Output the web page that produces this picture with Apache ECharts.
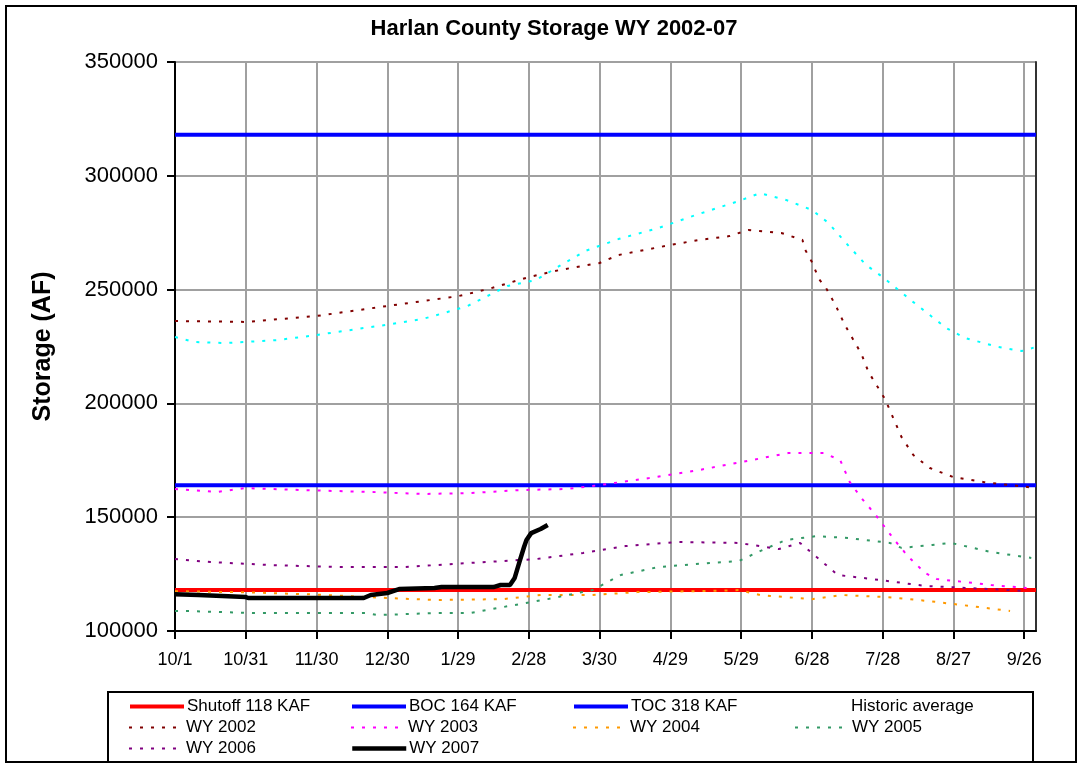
<!DOCTYPE html>
<html>
<head>
<meta charset="utf-8">
<title>Harlan County Storage WY 2002-07</title>
<script src="https://cdn.jsdelivr.net/npm/echarts@6/dist/echarts.min.js"></script>
<style>
  html, body { margin: 0; padding: 0; background: #fff; }
  #chart { width: 1081px; height: 766px; }
</style>
</head>
<body>
<div id="chart"></div>
<script>
  // x = days since 10/1 (water year), y = storage in AF
  const tickLabels = ['10/1', '10/31', '11/30', '12/30', '1/29', '2/28', '3/30', '4/29', '5/29', '6/28', '7/28', '8/27', '9/26']

  const shutoff = 118000
  const boc = 164000
  const toc = 318000

  const historicAvg = [[0, 229200], [8, 227000], [21, 226500], [30, 227000], [43, 227800], [57, 229600], [80, 233100], [92, 234900], [105, 237100], [114, 239700], [124, 242800], [130, 245900], [141, 251600], [153, 254200], [163, 260400], [174, 267000], [188, 272200], [205, 277100], [222, 283200], [239, 288900], [248, 292400], [259, 289400], [270, 285000], [277, 279300], [286, 268700], [293, 260800], [300, 255500], [313, 244500], [327, 233100], [335, 228700], [349, 224800], [359, 223000], [364, 224500]]

  const wy2002 = [[0, 236200], [30, 235800], [60, 238400], [90, 242800], [120, 247100], [133, 250300], [150, 255500], [163, 258600], [180, 261700], [188, 265200], [210, 269600], [222, 271800], [235, 273500], [243, 276200], [257, 274900], [266, 271800], [267, 267800], [270, 262100], [273, 254600], [276, 250700], [280, 243200], [284, 234400], [291, 221700], [294, 213800], [301, 201900], [308, 185200], [313, 177300], [320, 171600], [330, 167600], [343, 165400], [362, 163200]]

  const wy2003 = [[0, 162400], [18, 161100], [30, 162800], [54, 161900], [83, 161100], [105, 160200], [125, 160600], [146, 161900], [166, 162400], [180, 164100], [201, 167200], [222, 170700], [240, 174200], [260, 178200], [275, 178200], [282, 175100], [286, 165500], [291, 158400], [297, 151000], [305, 140000], [311, 132500], [318, 125500], [323, 122800], [335, 121500], [346, 120200], [361, 118900]]

  const wy2004 = [[0, 117500], [30, 117000], [60, 116000], [90, 114500], [111, 113600], [139, 114000], [155, 115800], [177, 115800], [196, 117100], [227, 117600], [239, 118000], [248, 115800], [270, 114000], [283, 115800], [302, 114900], [319, 113200], [337, 111000], [354, 108800]]

  const wy2005 = [[0, 108800], [5, 108800], [33, 107900], [81, 107900], [86, 107000], [111, 107900], [125, 107900], [139, 110500], [158, 114000], [177, 118000], [189, 124600], [205, 128100], [227, 129900], [239, 130700], [248, 135100], [259, 140000], [272, 141700], [286, 140800], [303, 138700], [308, 136500], [321, 137800], [329, 138700], [346, 134700], [363, 132100]]

  const wy2006 = [[0, 131600], [15, 130300], [40, 129000], [69, 128100], [97, 128100], [125, 129900], [153, 131600], [173, 134300], [191, 137300], [213, 139100], [239, 138700], [256, 136000], [265, 138700], [272, 132500], [281, 124600], [299, 122400], [318, 119800], [346, 118400], [361, 117600]]

  const wy2007 = [[0, 116200], [10, 115800], [20, 115400], [30, 114900], [31, 114500], [60, 114500], [80, 114500], [83, 115800], [90, 116700], [95, 118400], [110, 118900], [113, 119300], [135, 119300], [138, 120200], [142, 120200], [144, 123300], [146, 130300], [148, 137000], [149, 140000], [151, 143000], [155, 144800], [158, 146600]]

  // legend layout: rows of names (4 columns)
  const legendRows = [
    ['Shutoff 118 KAF', 'BOC 164 KAF', 'TOC 318 KAF', 'Historic average'],
    ['WY 2002', 'WY 2003', 'WY 2004', 'WY 2005'],
    ['WY 2006', 'WY 2007']
  ]

  const font = "'Liberation Sans', Arial, sans-serif"
  const dots = [3, 8]

  function flat(v) {
    return [[0, v], [365, v]]
  }

  function solid(name, color, data, w) {
    return {
      name: name,
      type: 'line',
      data: data,
      symbol: 'none',
      silent: true,
      lineStyle: { color: color, width: w || 4, type: 'solid' },
      itemStyle: { color: color }
    }
  }

  function dotted(name, color, data) {
    return {
      name: name,
      type: 'line',
      data: data,
      symbol: 'none',
      silent: true,
      lineStyle: { color: color, width: 2, type: dots },
      itemStyle: { color: color }
    }
  }

  // one legend component per item so the columns line up like the original
  let legends = []
  legendRows.forEach(function (row, r) {
    row.forEach(function (name, c) {
      legends.push({
        left: 128 + c * 222,
        top: 698 + r * 21,
        itemWidth: 54,
        itemHeight: 14,
        itemGap: 0,
        padding: 0,
        selectedMode: false,
        itemStyle: { opacity: 0 },
        lineStyle: { width: 'inherit' },
        textStyle: { fontFamily: font, fontSize: 17, color: '#000', padding: [0, 0, 0, -2] },
        data: name === 'Historic average' ? [{ name: name, icon: 'none' }] : [name]
      })
    })
  })

  const chart = echarts.init(document.getElementById('chart'))
  const option = {
    backgroundColor: '#fff',
    animation: false,
    title: {
      text: 'Harlan County Storage WY 2002-07',
      left: 549,
      textAlign: 'center',
      top: 13,
      textStyle: { fontFamily: font, fontSize: 22, fontWeight: 'bold', color: '#000' }
    },
    graphic: [
      {
        type: 'rect',
        shape: { x: 6, y: 6, width: 1070, height: 756 },
        style: { fill: 'none', stroke: '#000', lineWidth: 2 },
        silent: true
      },
      {
        type: 'rect',
        shape: { x: 108, y: 692, width: 925, height: 70 },
        style: { fill: 'none', stroke: '#000', lineWidth: 2 },
        silent: true
      }
    ],
    legend: legends,
    grid: {
      left: 175,
      right: 45,
      top: 62,
      bottom: 135,
      outerBoundsMode: 'none'
    },
    xAxis: {
      type: 'value',
      min: 0,
      max: 365,
      interval: 30,
      axisLine: { show: true, lineStyle: { color: '#000', width: 2 } },
      axisTick: { show: true, length: 8, lineStyle: { color: '#000', width: 2 } },
      axisLabel: {
        margin: 20,
        color: '#000',
        fontFamily: font,
        fontSize: 18,
        showMaxLabel: false,
        formatter: function (v) {
          return v % 30 === 0 ? (tickLabels[v / 30] || '') : ''
        }
      },
      splitLine: { show: true, lineStyle: { color: '#a0a0a0', width: 2 } }
    },
    yAxis: [
      {
        type: 'value',
        min: 100000,
        max: 350000,
        interval: 50000,
        name: 'Storage (AF)',
        nameLocation: 'middle',
        nameGap: 119,
        nameTextStyle: { fontFamily: font, fontSize: 25, fontWeight: 'bold', color: '#000' },
        axisLine: { show: true, lineStyle: { color: '#000', width: 2 } },
        axisTick: { show: true, length: 8, lineStyle: { color: '#000', width: 2 } },
        axisLabel: {
          margin: 17,
          color: '#000',
          fontFamily: font,
          fontSize: 22,
          formatter: function (v) { return String(v) }
        },
        splitLine: { show: true, lineStyle: { color: '#a0a0a0', width: 2 } }
      },
      {
        type: 'value',
        position: 'right',
        min: 100000,
        max: 350000,
        interval: 50000,
        axisLine: { show: true, lineStyle: { color: '#333', width: 2 } },
        axisTick: { show: false },
        axisLabel: { show: false },
        splitLine: { show: false }
      }
    ],
    series: [
      solid('Shutoff 118 KAF', '#ff0000', flat(shutoff)),
      solid('BOC 164 KAF', '#0000ff', flat(boc)),
      solid('TOC 318 KAF', '#0000ff', flat(toc)),
      dotted('Historic average', '#00ffff', historicAvg),
      dotted('WY 2002', '#800000', wy2002),
      dotted('WY 2003', '#ff00ff', wy2003),
      dotted('WY 2004', '#ff9900', wy2004),
      dotted('WY 2005', '#339966', wy2005),
      dotted('WY 2006', '#800080', wy2006),
      solid('WY 2007', '#000000', wy2007, 4.5)
    ]
  }
  chart.setOption(option)
</script>
</body>
</html>
